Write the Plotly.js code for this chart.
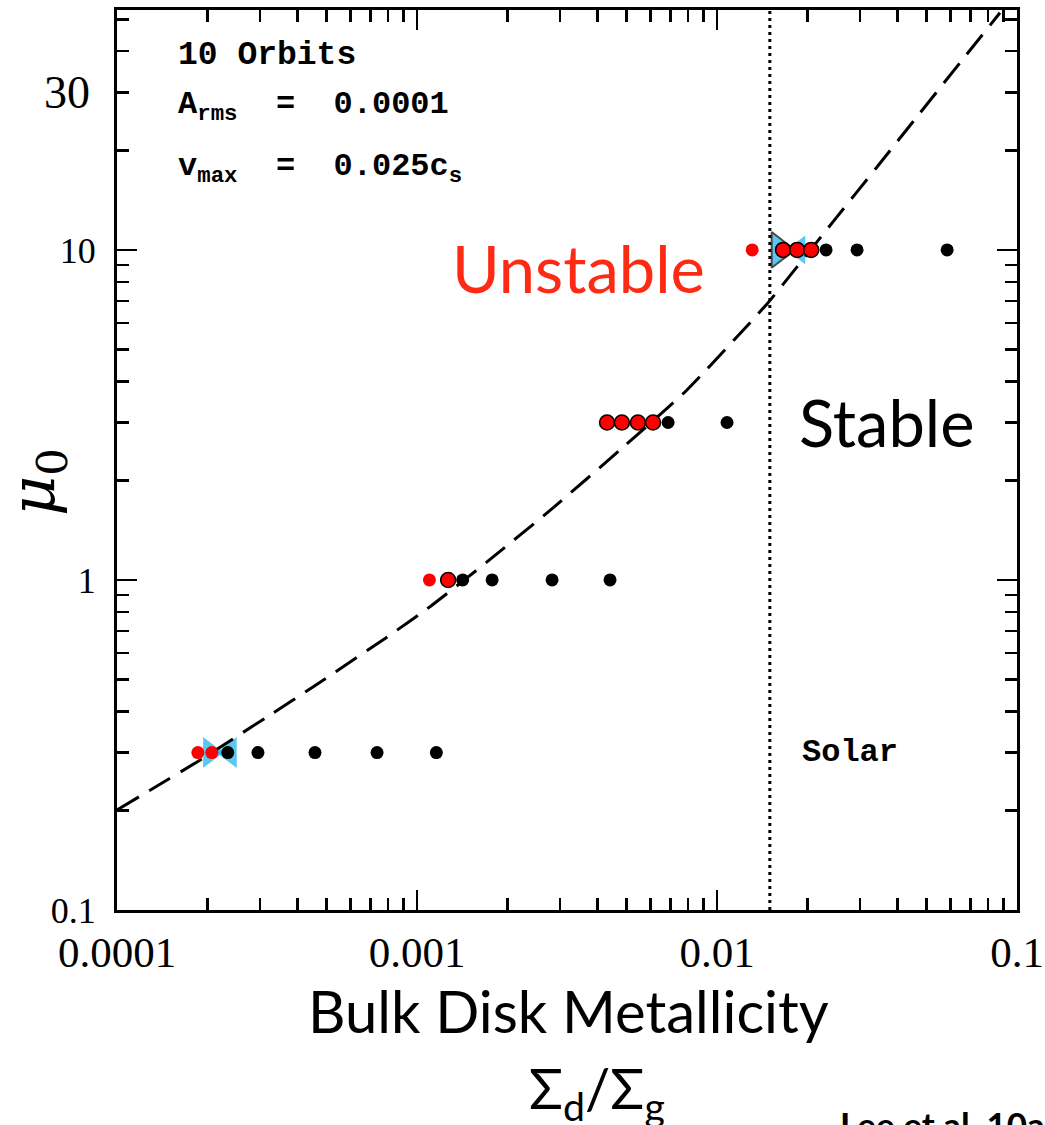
<!DOCTYPE html>
<html><head><meta charset="utf-8">
<script src="https://cdn.plot.ly/plotly-3.0.1.min.js"></script>
<style>html,body{margin:0;padding:0;background:#fff}</style>
</head><body><div id="chart" style="width:1045px;height:1125px"></div>
<script>
// ---- data ----
const stableZ  = [0.000234,0.000295,0.000457,0.000736,0.00116, 0.00142,0.00178,0.00282,0.0044, 0.00687,0.0108, 0.0231,0.0293,0.0585];
const stableMu = [0.3,0.3,0.3,0.3,0.3, 1,1,1,1, 3,3, 10,10,10];
const unstableZ  = [0.000186,0.000207, 0.0011, 0.0131];
const unstableMu = [0.3,0.3, 1, 10];
const unstableOutlinedZ  = [0.00127, 0.0043,0.00482,0.00545,0.00612, 0.0166,0.0185,0.0206];
const unstableOutlinedMu = [1, 3,3,3,3, 10,10,10];
const triRightZ  = [0.000204, 0.01615];
const triRightMu = [0.3, 10];
const triLeftZ   = [0.000238, 0.01876];
const triLeftMu  = [0.3, 10];
const curveZ  = [1.0e-4,1.36e-4,1.848e-4,3.31e-4,4.5e-4,8.13e-4,1.113e-3,1.711e-3,2.84e-3,4.75e-3,7.94e-3,0.01468,0.01792,0.02435,0.03414,0.04749,0.06457,0.08776];
const curveMu = [0.201,0.2375,0.281,0.395,0.474,0.681,0.834,1.134,1.653,2.477,3.765,6.86,8.58,12.16,17.84,26.0,36.9,52.3];
const solarZ = [0.015];
const xTickVals = [0.0001,0.001,0.01,0.1];
const xTickText = ['0.0001','0.001','0.01','0.1'];
const yTickVals = [0.1,1,10];
const yTickText = ['0.1','1','10'];
const yExtraLabel = [30];

// minor tick positions (2..9 per decade)
const mult = [2,3,4,5,6,7,8,9];
const xMinor = [], yMinor = [];
[0.0001,0.001,0.01].forEach(d => mult.forEach(m => xMinor.push(d*m)));
[0.1,1,10].forEach(d => mult.forEach(m => yMinor.push(d*m)));

const CYAN = '#12b2ef';
const traces = [
  {x: triRightZ, y: triRightMu, type:'scatter', mode:'markers', hoverinfo:'skip',
   marker:{symbol:'triangle-right', size:[27,31], color:CYAN, line:{color:'black', width:[0,2]}}},
  {x: triLeftZ, y: triLeftMu, type:'scatter', mode:'markers', hoverinfo:'skip',
   marker:{symbol:'triangle-left', size:[27,25], color:CYAN, line:{width:0}}},
  {x: curveZ, y: curveMu, type:'scatter', mode:'lines', hoverinfo:'skip',
   line:{color:'black', width:3, dash:'25px,12px', shape:'spline', smoothing:0.5}},
  {x: stableZ, y: stableMu, type:'scatter', mode:'markers',
   marker:{symbol:'circle', size:13, color:'black', line:{width:0}}},
  {x: unstableZ, y: unstableMu, type:'scatter', mode:'markers',
   marker:{symbol:'circle', size:13, color:'#ff0000', line:{width:0}}},
  {x: unstableOutlinedZ, y: unstableOutlinedMu, type:'scatter', mode:'markers',
   marker:{symbol:'circle', size:15, color:'#ff0000', line:{color:'black', width:1.5}}}
];

const px = x => (x-117)/900;
const py = y => (910-y)/900;

const axisCommon = {
  type:'log', showgrid:false, zeroline:false, showline:true, linecolor:'black', linewidth:3,
  mirror:'allticks', ticks:'inside', ticklen:20, tickwidth:2.5, tickcolor:'black'
};

function ann(x, y, text, font, extra) {
  return Object.assign({xref:'paper', yref:'paper', x:px(x), y:py(y), xanchor:'center', yanchor:'middle',
    showarrow:false, text:text, font:font}, extra || {});
}

const layout = {
  width:1045, height:1125, showlegend:false,
  paper_bgcolor:'white', plot_bgcolor:'white',
  margin:{l:117, r:28, t:10, b:215},
  xaxis: Object.assign({}, axisCommon, {
    range:[-4,-1], tickmode:'array', tickvals:xTickVals, ticktext:xTickText,
    tickfont:{family:'Liberation Serif', size:43, color:'black'}, ticklabelstandoff:2,
    minor:{tickmode:'array', tickvals:xMinor, ticks:'inside', ticklen:12, tickwidth:2.5, tickcolor:'black', showgrid:false}
  }),
  yaxis: Object.assign({}, axisCommon, {
    range:[-1,1.727], tickmode:'array', tickvals:yTickVals, ticktext:yTickText,
    tickfont:{family:'Liberation Serif', size:36, color:'black'}, ticklabelstandoff:11,
    minor:{tickmode:'array', tickvals:yMinor, ticks:'inside', ticklen:12, tickwidth:2.5, tickcolor:'black', showgrid:false}
  }),
  shapes:[{type:'line', xref:'x', yref:'paper', x0:solarZ[0], x1:solarZ[0], y0:0, y1:1,
           line:{color:'black', width:3, dash:'3px,4px'}}],
  annotations:[
    {xref:'paper', yref:'y', x:px(92), y:Math.log10(yExtraLabel[0]), xanchor:'right', yanchor:'middle', showarrow:false,
     text:String(yExtraLabel[0]), font:{family:'Liberation Serif', size:46, color:'black'}},
    ann(36, 482, '<i>μ</i><sub>0</sub>', {family:'DejaVu Serif', size:62, color:'black'}, {textangle:-90}),
    ann(568, 1010, 'Bulk Disk Metallicity', {family:'Lato', size:58, color:'black'}),
    ann(597, 1091, 'Σ<sub>d</sub>/Σ<sub>g</sub>', {family:'Lato', size:56, color:'black'}),
    ann(838, 1101, '<b>Lee et al. 10a</b>', {family:'Lato', size:35, color:'black'}, {xanchor:'left', yanchor:'top'}),
    ann(578, 268, 'Unstable', {family:'Lato', size:65, color:'#ff2a14'}),
    ann(886, 422, 'Stable', {family:'Lato', size:65, color:'black'}),
    ann(850, 752, '<b>Solar</b>', {family:'Liberation Mono', size:32, color:'black'}),
    ann(176, 55, '<b>10 Orbits</b>', {family:'Liberation Mono', size:33, color:'black'}, {xanchor:'left'}),
    ann(176, 107, '<b>A<sub>rms</sub>\u00a0\u00a0=\u00a0\u00a00.0001</b>', {family:'Liberation Mono', size:32, color:'black'}, {xanchor:'left'}),
    ann(176, 169, '<b>v<sub>max</sub>\u00a0\u00a0=\u00a0\u00a00.025c<sub>s</sub></b>', {family:'Liberation Mono', size:32, color:'black'}, {xanchor:'left'})
  ]
};

Plotly.newPlot('chart', traces, layout, {staticPlot:true, displayModeBar:false});
</script>
</body></html>
